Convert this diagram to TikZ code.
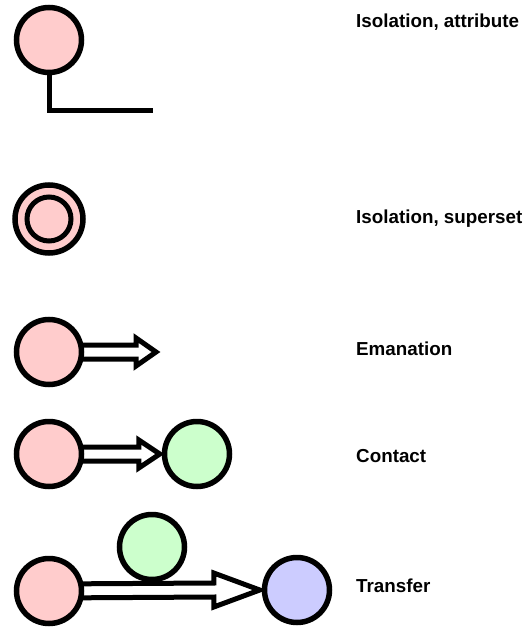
\documentclass[tikz,border=0pt]{standalone}
\usepackage{fontspec}
\setmainfont{Liberation Sans}
\usetikzlibrary{calc,positioning,backgrounds}
\definecolor{cSrc}{HTML}{FFCCCC}
\definecolor{cMid}{HTML}{CCFFCC}
\definecolor{cDst}{HTML}{CCCCFF}
\tikzset{
  ent/.style    ={circle,draw=black,line width=5.5pt,minimum size=65pt,inner sep=0pt},
  src/.style    ={ent,fill=cSrc},
  mid/.style    ={ent,fill=cMid},
  dst/.style    ={ent,fill=cDst},
  stem/.style   ={draw=black,line width=5pt,line join=miter},
  fat/.style    ={draw=black,fill=white,line width=5pt,line join=miter},
  lbl/.style    ={anchor=west,inner sep=0pt,font=\bfseries\fontsize{18.8}{22}\selectfont},
}
\begin{document}
\begin{tikzpicture}[x=1pt,y=-1pt]
  \useasboundingbox (0,0) rectangle (525,628);
  % isolation, attribute
  \node[src] (att) at (49,40) {};
  \coordinate (attend) at (153,111);
  \begin{scope}[on background layer]
    \draw[stem] (att.center) |- (attend);
  \end{scope}
  \node[lbl] (lAtt) at (356,22) {Isolation, attribute};
  % isolation, superset
  \node[src,minimum size=68pt] (sup) at (49,219) {};
  \node[ent,fill=cSrc,line width=5pt,minimum size=44pt] (supin) at (sup.center) {};
  \node[lbl] (lSup) at (356,219) {Isolation, superset};
  % emanation
  \node[src] (em) at (49,352) {};
  \coordinate (emtip) at (156,352);
  \begin{scope}[on background layer]
    \draw[fat] ($(em.center)+(0,-7)$) -- ($(emtip)+(-20,-7)$) -- ($(emtip)+(-20,-14)$)
      -- (emtip) -- ($(emtip)+(-20,14)$) -- ($(emtip)+(-20,7)$) -- ($(em.center)+(0,7)$);
  \end{scope}
  \node[lbl] (lEm) at (356,349) {Emanation};
  % contact
  \node[src] (ct) at (49,454) {};
  \node[mid] (ctb) at (197,454) {};
  \begin{scope}[on background layer]
    \draw[fat] ($(ct.center)+(0,-7)$) -- ($(ctb.west)+(-23,-7)$) -- ($(ctb.west)+(-23,-14)$)
      -- ($(ctb.west)+(-2,0)$) -- ($(ctb.west)+(-23,14)$) -- ($(ctb.west)+(-23,7)$) -- ($(ct.center)+(0,7)$);
  \end{scope}
  \node[lbl] (lCt) at (356,456) {Contact};
  % transfer
  \node[src] (tr) at (49,591) {};
  \node[dst] (trc) at (297,590) {};
  \node[mid] (trb) at (152,547) {};
  \begin{scope}[on background layer]
    \draw[fat] ($(tr.center)+(0,-7)$) -- ($(trc.west)+(-48,-7)$) -- ($(trc.west)+(-48,-17)$)
      -- ($(trc.west)+(-2,0)$) -- ($(trc.west)+(-48,17)$) -- ($(trc.west)+(-48,7)$) -- ($(tr.center)+(0,7)$);
  \end{scope}
  \node[lbl] (lTr) at (356,586) {Transfer};
\end{tikzpicture}
\end{document}
